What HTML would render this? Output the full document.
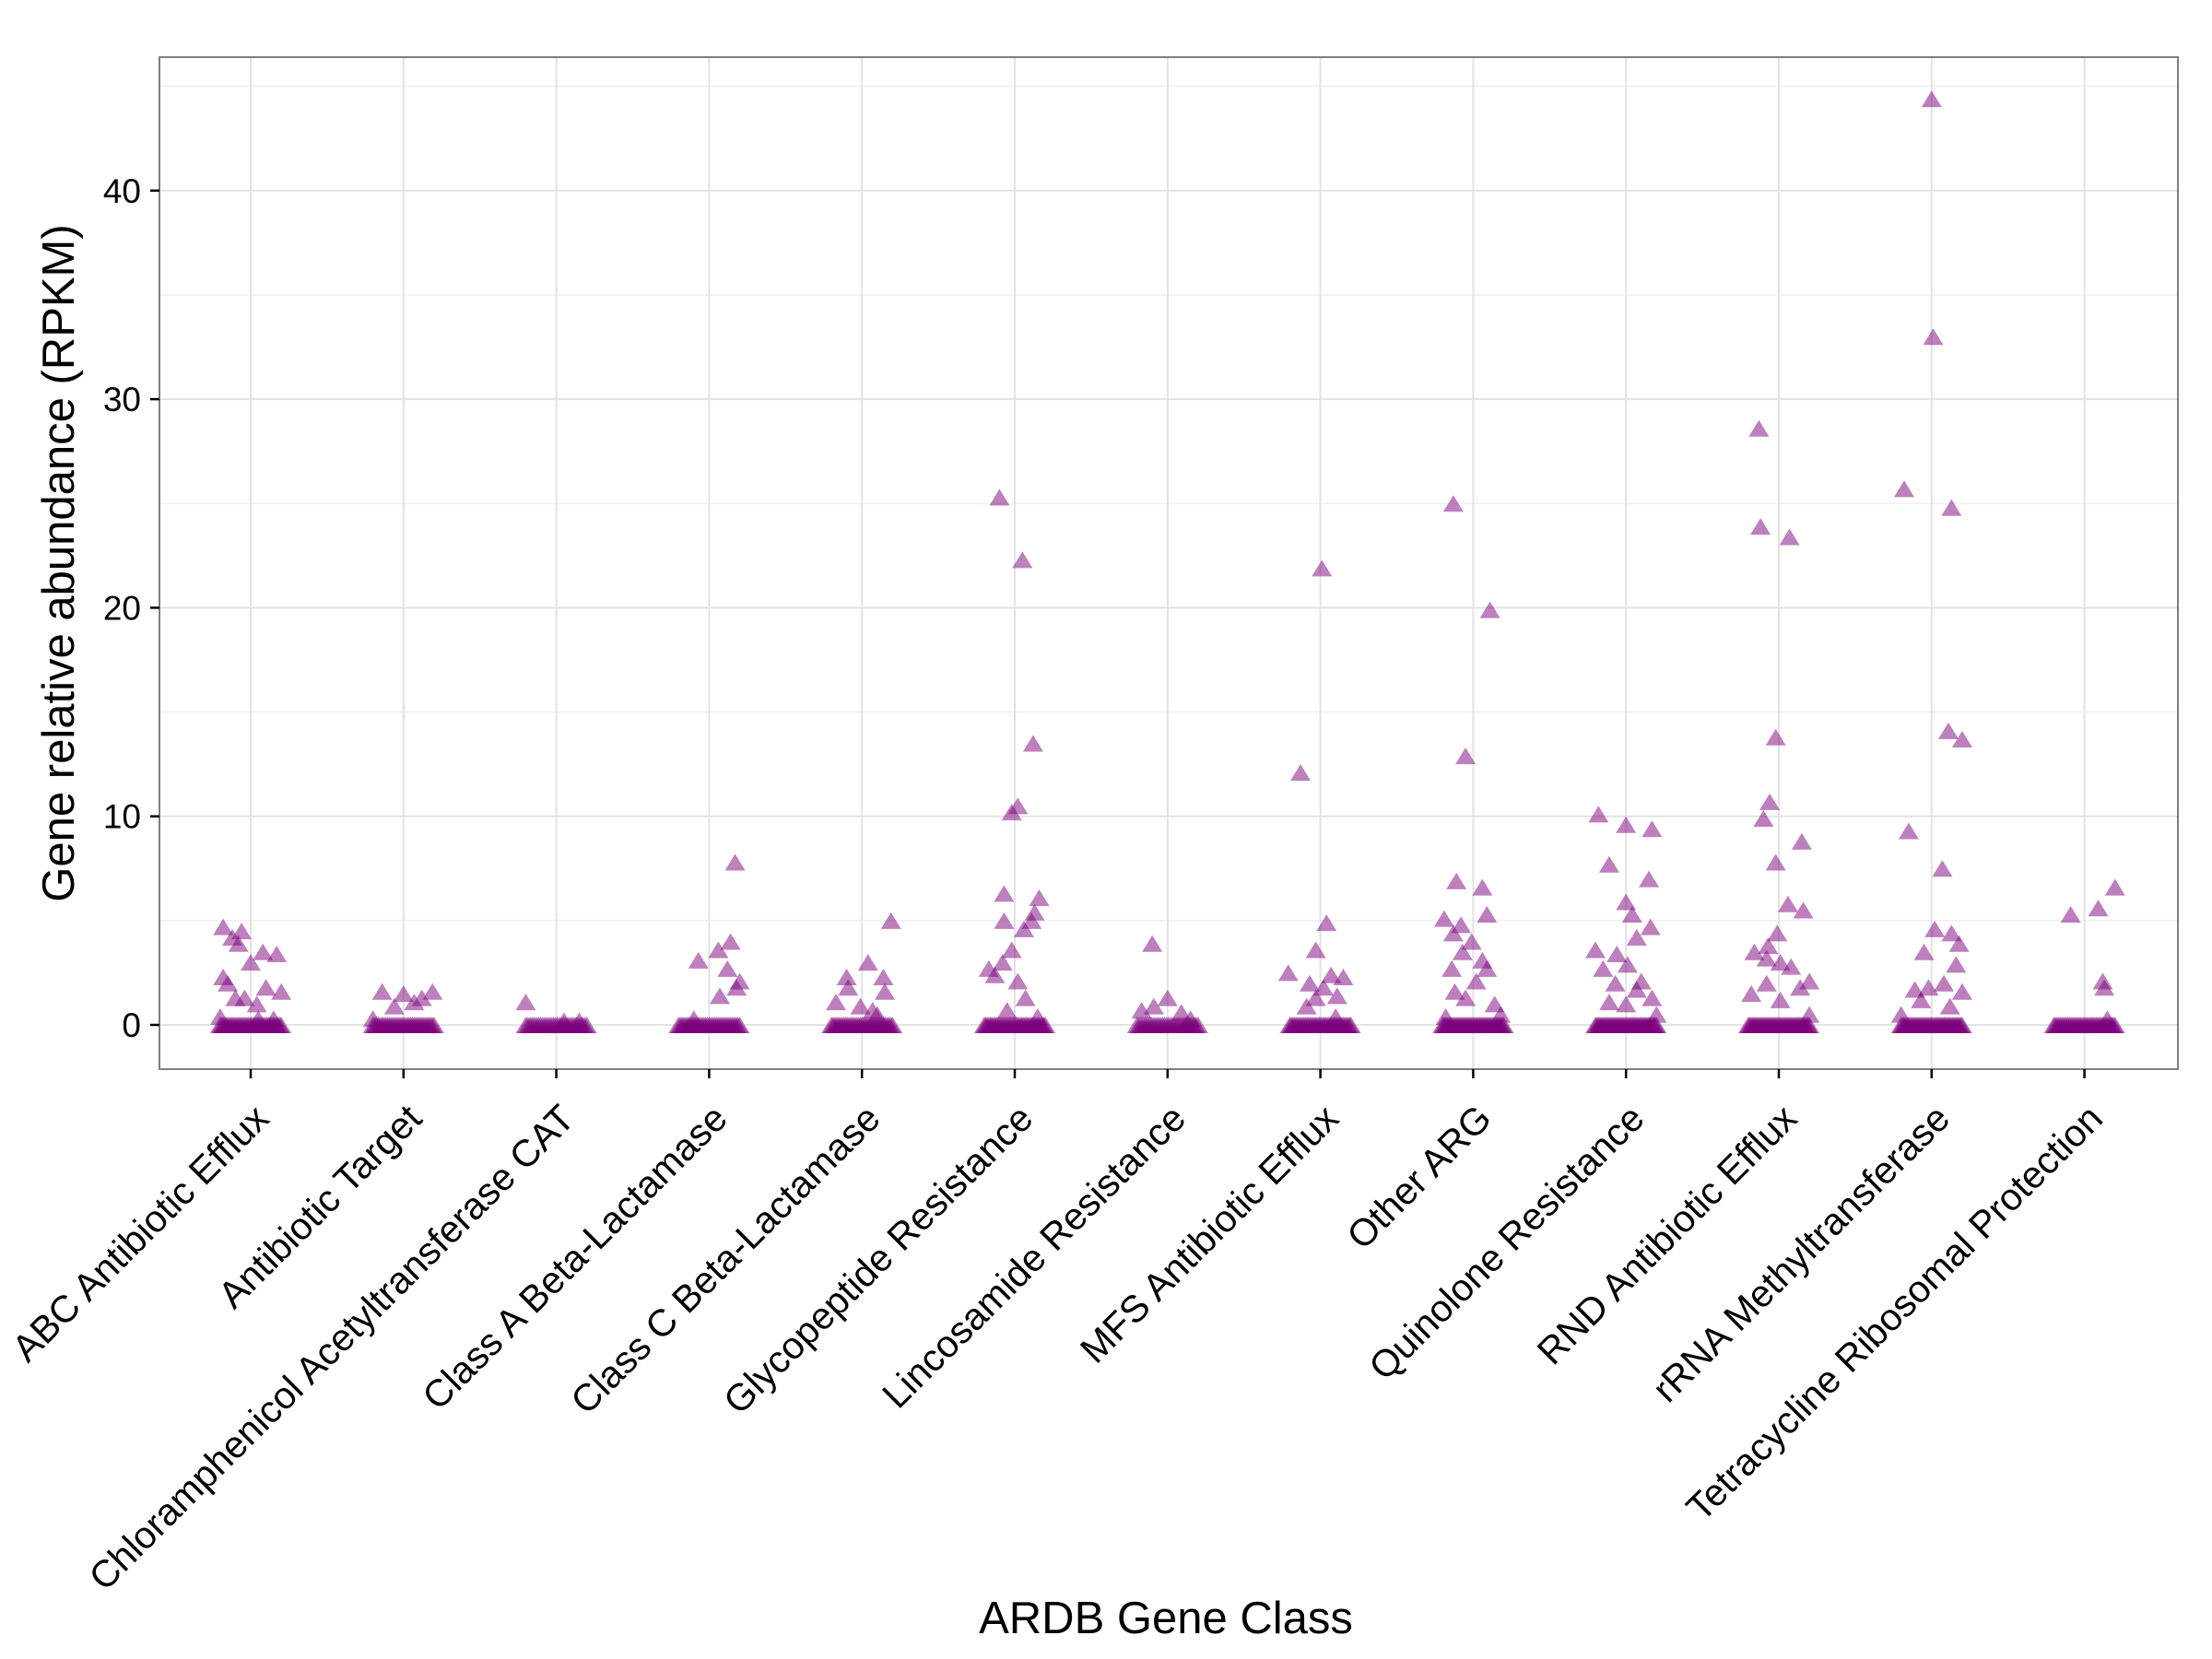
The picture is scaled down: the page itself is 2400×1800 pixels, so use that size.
<!DOCTYPE html>
<html><head><meta charset="utf-8"><style>
html,body{margin:0;padding:0;background:#fff;}
svg{display:block;font-family:"Liberation Sans",Arial,sans-serif;}
</style></head><body>
<svg id="chart" width="2400" height="1800" viewBox="0 0 2400 1800" xmlns="http://www.w3.org/2000/svg">
<rect x="0" y="0" width="2400" height="1800" fill="#fff"/>
<g id="grid"></g>
<g id="points"></g>
<rect x="173" y="62" width="2190" height="1098" fill="none" stroke="#7f7f7f" stroke-width="2"/>
<g id="axes"></g>
<text x="1265" y="1772" font-size="49" text-anchor="middle" fill="#000">ARDB Gene Class</text>
<text transform="translate(80,611) rotate(-90)" font-size="49" text-anchor="middle" fill="#000">Gene relative abundance (RPKM)</text>
</svg>
<script>
const categories = ["ABC Antibiotic Efflux","Antibiotic Target","Chloramphenicol Acetyltransferase CAT","Class A Beta-Lactamase","Class C Beta-Lactamase","Glycopeptide Resistance","Lincosamide Resistance","MFS Antibiotic Efflux","Other ARG","Quinolone Resistance","RND Antibiotic Efflux","rRNA Methyltransferase","Tetracycline Ribosomal Protection"];
const yTicks = [0,10,20,30,40];
const zeroCounts = [40,35,30,35,35,40,30,40,45,45,45,45,40];
const valABC = [4.7,4.5,4.2,3.9,3.5,3.4,3.0,2.3,2.0,1.8,1.6,1.3,1.0,1.3,0.4,0.3,0.3];
const jitABC = [-0.18,-0.06,-0.12,-0.08,0.08,0.17,0,-0.18,-0.15,0.10,0.2,-0.1,0.04,-0.04,-0.2,0.15,0.05];
const valAT = [1.6,1.5,1.6,1.1,1.3,0.9,0.3];
const jitAT = [-0.14,0,0.19,0.07,0.12,-0.06,-0.2];
const valCAT = [1.1,0.2,0.2];
const jitCAT = [-0.2,0.05,0.15];
const valClassA = [3.1,3.6,4.0,2.7,2.1,1.8,1.4,7.8,0.3];
const jitClassA = [-0.07,0.06,0.14,0.12,0.2,0.18,0.07,0.17,-0.1];
const valClassC = [5.0,3.0,2.3,2.3,1.8,1.1,1.6,0.9,0.7,0.5];
const jitClassC = [0.19,0.04,-0.1,0.14,-0.09,-0.17,0.15,-0.01,0.07,0.1];
const valGly = [25.3,22.3,13.5,10.5,10.2,6.3,6.1,5.0,5.4,4.6,5.0,2.7,2.4,3.6,3.0,2.1,1.3,0.7,0.4];
const jitGly = [-0.1,0.05,0.12,0.02,-0.02,-0.07,0.16,0.11,0.13,0.06,-0.07,-0.17,-0.13,-0.02,-0.08,0.02,0.07,-0.05,0.15];
const valLin = [3.9,1.3,0.9,0.7,0.6,0.3];
const jitLin = [-0.1,0,-0.09,-0.17,0.09,0.15];
const valMFS = [12.1,21.9,4.9,2.5,3.6,2.0,2.4,2.3,1.8,1.4,0.9,1.3,0.4];
const jitMFS = [-0.13,0.01,0.04,-0.21,-0.03,-0.07,0.07,0.15,0.02,0.11,-0.09,-0.03,0.1];
const valOther = [25.0,19.9,12.9,6.9,6.6,5.1,4.8,5.3,4.4,4.0,3.5,3.1,2.7,2.7,2.1,1.6,1.0,1.3,0.5,0.4];
const jitOther = [-0.13,0.11,-0.05,-0.11,0.06,-0.19,-0.08,0.09,-0.13,-0.01,-0.07,0.06,0.09,-0.14,0.02,-0.12,0.14,-0.05,0.18,-0.18];
const valQuin = [10.1,9.6,9.4,7.7,7.0,5.9,5.3,4.7,4.2,3.6,3.4,2.7,2.9,2.1,2.0,1.7,1.3,1.1,1.0,0.5];
const jitQuin = [-0.18,0,0.17,-0.11,0.15,0,0.04,0.16,0.07,-0.2,-0.06,-0.15,0.01,0.1,-0.07,0.07,0.17,-0.11,0,0.2];
const valRND = [28.6,23.9,23.4,13.8,10.7,9.9,8.8,7.8,5.8,5.5,4.4,3.5,3.2,3.0,3.8,2.8,2.1,1.8,2.0,1.5,1.2,0.5];
const jitRND = [-0.13,-0.12,0.07,-0.02,-0.06,-0.1,0.15,-0.02,0.06,0.16,-0.01,-0.16,-0.08,0.01,-0.07,0.08,0.2,0.14,-0.08,-0.18,0.01,0.2];
const valRRNA = [44.4,33.0,25.7,24.8,14.1,13.7,9.3,7.5,4.6,4.4,3.9,3.5,2.9,1.8,1.7,2.0,1.6,1.2,0.9,0.5];
const jitRRNA = [0,0.01,-0.18,0.13,0.11,0.2,-0.15,0.07,0.02,0.13,0.18,-0.05,0.16,-0.02,-0.11,0.08,0.2,-0.07,0.12,-0.2];
const valTet = [5.3,5.6,6.6,2.1,1.8,0.3];
const jitTet = [-0.09,0.09,0.2,0.12,0.13,0.15];
const seriesVals = [valABC,valAT,valCAT,valClassA,valClassC,valGly,valLin,valMFS,valOther,valQuin,valRND,valRRNA,valTet];
const seriesJit = [jitABC,jitAT,jitCAT,jitClassA,jitClassC,jitGly,jitLin,jitMFS,jitOther,jitQuin,jitRND,jitRRNA,jitTet];

const NS = "http://www.w3.org/2000/svg";
const PL = 173, PR = 2363, PT = 62, PB = 1160;
function xScale(i){ return 272 + i * 165.8; }
function yScale(v){ return 1112 - v * 22.63; }
function mk(tag, attrs, parent){ const e = document.createElementNS(NS, tag); for (const k in attrs) e.setAttribute(k, attrs[k]); parent.appendChild(e); return e; }
const grid = document.getElementById('grid');
const axes = document.getElementById('axes');
const pts = document.getElementById('points');

for (let v = 5; v <= 45; v += 10) {
  const l = mk('line', {x1:PL, x2:PR, y1:yScale(v), y2:yScale(v), stroke:'#f3f3f3', 'stroke-width':2}, grid);
  
  
}
yTicks.forEach(v => {
  const y = yScale(v);
  const l = mk('line', {x1:PL, x2:PR, y1:y, y2:y, stroke:'#e3e3e3', 'stroke-width':2}, grid);
  
  
  const t = mk('line', {x1:PL-10, x2:PL, y1:y, y2:y, stroke:'#000', 'stroke-width':2.5}, axes);
  
  
  const tx = mk('text', {x:PL-20, y:y+13, 'font-size':37, 'text-anchor':'end', fill:'#000'}, axes);
  tx.textContent = String(v);
  
  
});
categories.forEach((c, i) => {
  const x = xScale(i);
  const l = mk('line', {x1:x, x2:x, y1:PT, y2:PB, stroke:'#e3e3e3', 'stroke-width':2}, grid);
  
  
  const t = mk('line', {x1:x, x2:x, y1:PB, y2:PB+10, stroke:'#000', 'stroke-width':2.5}, axes);
  
  
  const tx = mk('text', {transform:'translate(' + (x + 22) + ',' + (PB + 56) + ') rotate(-45)', 'font-size':41, 'text-anchor':'end', fill:'#000'}, axes);
  tx.textContent = c;
  
  
});
function tri(cx, cy){
  const w = 11, h = 18;
  const p = mk('polygon', {points: (cx-w)+','+(cy+h/2)+' '+(cx+w)+','+(cy+h/2)+' '+cx+','+(cy-h/2), fill:'#7b007b', 'fill-opacity':0.5}, pts);
  
  
}
categories.forEach((c, i) => {
  const n = zeroCounts[i];
  for (let k = 0; k < n; k++) {
    const j = -0.2 + 0.4 * k / (n - 1);
    tri(xScale(i + j), yScale(0));
  }
  seriesVals[i].forEach((v, k) => {
    tri(xScale(i + seriesJit[i][k]), yScale(v));
  });
});
</script>
</body></html>
